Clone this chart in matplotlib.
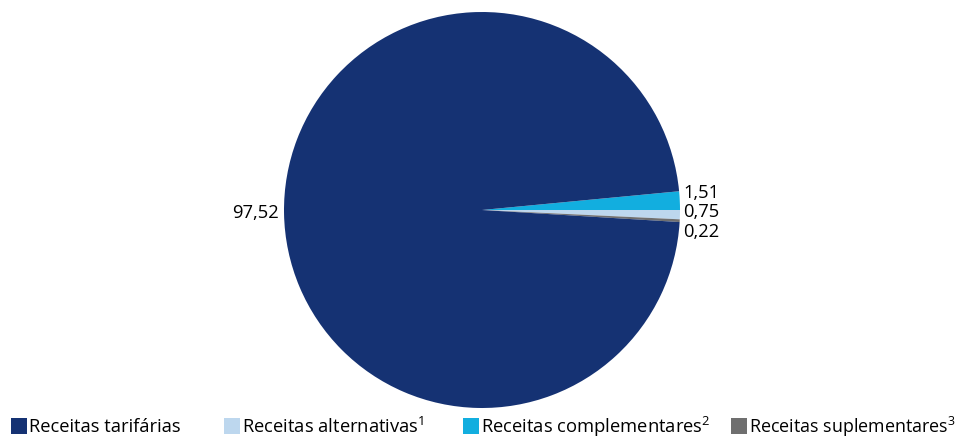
import matplotlib
matplotlib.use("Agg")
import matplotlib.pyplot as plt
from matplotlib.patches import Rectangle

plt.rcParams['font.family'] = ['Open Sans', 'DejaVu Sans']
plt.rcParams['mathtext.fontset'] = 'custom'
plt.rcParams['mathtext.rm'] = 'Open Sans'
plt.rcParams['mathtext.it'] = 'Open Sans'
plt.rcParams['mathtext.default'] = 'rm'

categories = ["Receitas tarifárias", "Receitas alternativas$^{1}$", "Receitas complementares$^{2}$", "Receitas suplementares$^{3}$"]
values = [97.52, 0.75, 1.51, 0.22]
colors = ["#153273", "#BDD7EE", "#12AEDF", "#6F6F6F"]
value_labels = ["97,52", "0,75", "1,51", "0,22"]

W, H = 962, 439
fig = plt.figure(figsize=(W / 100, H / 100), dpi=100)
ax = fig.add_axes([0, 0, 1, 1])

# drawing order clockwise: complementares, alternativas, suplementares, tarifárias
order = [2, 1, 3, 0]
cx, cy, r = 482, H - 211, 198
ax.pie([values[i] for i in order], colors=[colors[i] for i in order],
       startangle=values[2] * 3.6, counterclock=False,
       center=(cx, cy), radius=r, frame=True,
       wedgeprops=dict(linewidth=0.3, edgecolor='none'))
ax.set_xlim(0, W)
ax.set_ylim(0, H)
ax.axis('off')

fs = 13.2
# value labels
ax.text(683, H - 193, value_labels[2], ha='left', va='center', fontsize=fs)
ax.text(683, H - 212, value_labels[1], ha='left', va='center', fontsize=fs)
ax.text(683, H - 232, value_labels[3], ha='left', va='center', fontsize=fs)
ax.text(279, H - 213, value_labels[0], ha='right', va='center', fontsize=fs)

# legend
leg_x = [11, 224, 463, 731]
ly = H - 427
for x, c, lab in zip(leg_x, colors, categories):
    ax.add_patch(Rectangle((x, ly - 8), 16, 16, color=c, lw=0))
    ax.text(x + 18, ly, lab, ha='left', va='center', fontsize=fs if x < 700 else 12.9)

fig.savefig("out.png", dpi=100)
